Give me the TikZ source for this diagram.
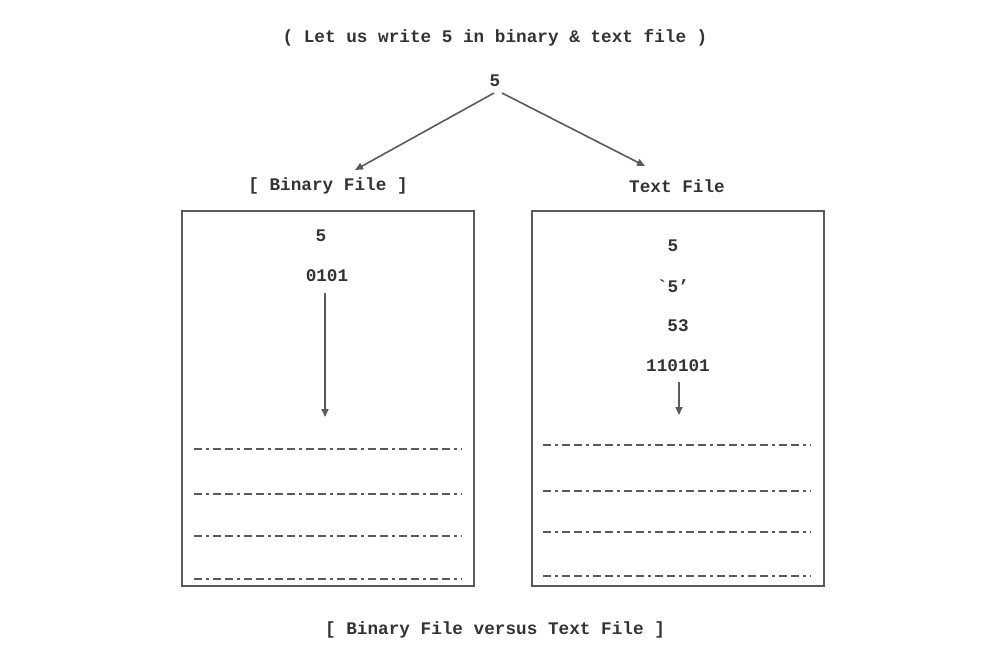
\documentclass[tikz,border=0pt]{standalone}
\usepackage{fontspec}
\setmonofont{Liberation Mono}
\usetikzlibrary{arrows.meta}
\definecolor{ln}{HTML}{5A5A5A}
\definecolor{tx}{HTML}{333333}
\tikzset{
  lbl/.style={font=\fontsize{17.7}{20}\selectfont\ttfamily\bfseries, text=tx, inner sep=1pt},
  arr/.style={draw=ln, line width=1.6pt, -{Triangle[length=8pt,width=7pt]}},
  filebox/.style={draw=ln, line width=1.6pt},
  dline/.style={draw=ln, line width=1.3pt, dash pattern=on 8pt off 4pt on 3pt off 4pt on 8pt off 4pt}
}
\begin{document}
\begin{tikzpicture}[x=1pt,y=-1pt]
\useasboundingbox (0,0) rectangle (986,672);
\node[lbl] (title) at (495,38) {( Let us write 5 in binary \& text file )};
\node[lbl] (five) at (495,81) {5};
\node[lbl] (bin) at (328,186) {[ Binary File ]};
\node[lbl] (txt) at (677,186) {Text File};
\coordinate (s1) at (494,93);
\coordinate (e1) at (355,170);
\coordinate (s2) at (502,93);
\coordinate (e2) at (645,166);
\draw[arr] (s1) -- (e1);
\draw[arr] (s2) -- (e2);
% boxes
\node[filebox, minimum width=292pt, minimum height=375pt, inner sep=0pt] (lbox) at (328,398.5) {};
\node[filebox, minimum width=292pt, minimum height=375pt, inner sep=0pt] (rbox) at (678,398.5) {};
% left contents
\node[lbl] (l5) at (321,236) {5};
\node[lbl] (l0101) at (327,276) {0101};
\coordinate (la1) at (325,293);
\coordinate (la2) at (325,417);
\draw[arr] (la1) -- (la2);
\foreach \y/\n in {449/1,494/2,536/3,579/4} {
  \coordinate (ld\n a) at (194,\y);
  \coordinate (ld\n b) at (462,\y);
  \draw[dline] (ld\n a) -- (ld\n b);
}
% right contents
\node[lbl] (r5) at (673,246) {5};
\node[lbl] (rq) at (673,286) {`5’};
\node[lbl] (r53) at (678,326) {53};
\node[lbl] (rbits) at (678,366) {110101};
\coordinate (ra1) at (679,382);
\coordinate (ra2) at (679,415);
\draw[arr] (ra1) -- (ra2);
\foreach \y/\n in {445/1,491/2,532/3,576/4} {
  \coordinate (rd\n a) at (543,\y);
  \coordinate (rd\n b) at (811,\y);
  \draw[dline] (rd\n a) -- (rd\n b);
}
\node[lbl] (caption) at (495,630) {[ Binary File versus Text File ]};
\end{tikzpicture}
\end{document}
